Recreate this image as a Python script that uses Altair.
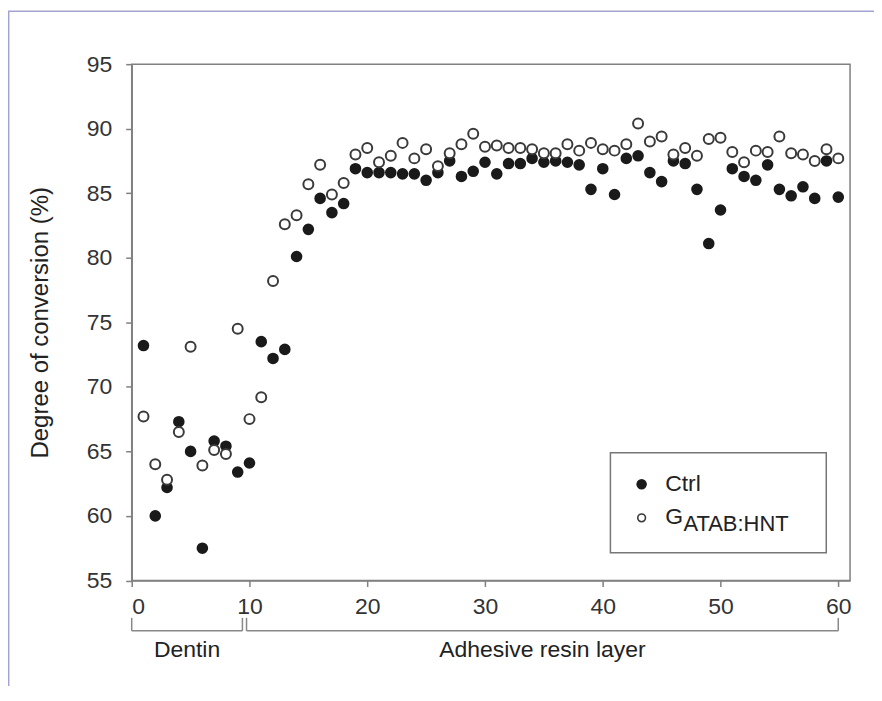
import altair as alt
import pandas as pd

# ---- data ----
positions = list(range(1, 61))
ctrl = [73.2, 60.0, 62.2, 67.3, 65.0, 57.5, 65.8, 65.4, 63.4, 64.1,
        73.5, 72.2, 72.9, 80.1, 82.2, 84.6, 83.5, 84.2, 86.9, 86.6,
        86.6, 86.6, 86.5, 86.5, 86.0, 86.6, 87.5, 86.3, 86.7, 87.4,
        86.5, 87.3, 87.3, 87.7, 87.4, 87.5, 87.4, 87.2, 85.3, 86.9,
        84.9, 87.7, 87.9, 86.6, 85.9, 87.5, 87.3, 85.3, 81.1, 83.7,
        86.9, 86.3, 86.0, 87.2, 85.3, 84.8, 85.5, 84.6, 87.5, 84.7]
gatab = [67.7, 64.0, 62.8, 66.5, 73.1, 63.9, 65.1, 64.8, 74.5, 67.5,
         69.2, 78.2, 82.6, 83.3, 85.7, 87.2, 84.9, 85.8, 88.0, 88.5,
         87.4, 87.9, 88.9, 87.7, 88.4, 87.1, 88.1, 88.8, 89.6, 88.6,
         88.7, 88.5, 88.5, 88.4, 88.1, 88.1, 88.8, 88.3, 88.9, 88.4,
         88.3, 88.8, 90.4, 89.0, 89.4, 88.0, 88.5, 87.9, 89.2, 89.3,
         88.2, 87.4, 88.3, 88.2, 89.4, 88.1, 88.0, 87.5, 88.4, 87.7]
x_ticks = [0, 10, 20, 30, 40, 50, 60]
y_ticks = [55, 60, 65, 70, 75, 80, 85, 90, 95]
regions = ["Dentin", "Adhesive resin layer"]
region_start = [0, 9.75]
region_end = [9.4, 60]
series_names = ["Ctrl", "G", "ATAB:HNT"]

df = pd.DataFrame({"pos": positions, "ctrl": ctrl, "gatab": gatab})
reg = pd.DataFrame({"name": regions, "start": region_start, "end": region_end,
                    "mid": [(a + b) / 2 for a, b in zip(region_start, region_end)]})
one = pd.DataFrame({"d": [0]})

FONT = "Liberation Sans"
W, H = 720, 517.5
xs = alt.Scale(domain=[0, 61], nice=False, zero=False)
ys = alt.Scale(domain=[55, 95], nice=False, zero=False)

X = alt.X("pos:Q", scale=xs, title=None,
          axis=alt.Axis(values=x_ticks, format="d", labelPadding=9))
Y_ctrl = alt.Y("ctrl:Q", scale=ys, title="Degree of conversion (%)",
               axis=alt.Axis(values=y_ticks, format="d", labelPadding=14, titlePadding=34))

filled = alt.Chart(df).mark_circle(size=135, color="#1a1a1a", opacity=1).encode(
    x=X, y=Y_ctrl)
opened = alt.Chart(df).mark_point(shape="circle", size=100, filled=True, fill="white",
                                   stroke="#3a3a3a", strokeWidth=2, opacity=1,
                                   fillOpacity=1).encode(
    x=alt.X("pos:Q", scale=xs), y=alt.Y("gatab:Q", scale=ys))

# ---- legend (placed in data coordinates) ----
lg_box = alt.Chart(one).mark_rect(fill="white", stroke="#777777", strokeWidth=1.5).encode(
    x=alt.datum(40.65), x2=alt.datum(58.98), y=alt.datum(64.9), y2=alt.datum(57.15))
lg_f = alt.Chart(one).mark_circle(size=110, color="#1a1a1a", opacity=1).encode(
    x=alt.datum(43.3), y=alt.datum(62.45))
lg_o = alt.Chart(one).mark_point(shape="circle", size=60, filled=True, fill="white",
                                 stroke="#3a3a3a", strokeWidth=1.6, opacity=1).encode(
    x=alt.datum(43.3), y=alt.datum(59.85))
lg_t1 = alt.Chart(one).mark_text(align="left", baseline="middle", font=FONT, fontSize=23,
                                 color="#222222").encode(
    x=alt.datum(45.3), y=alt.datum(62.45), text=alt.value(series_names[0]))
lg_t2 = alt.Chart(one).mark_text(align="left", baseline="middle", font=FONT, fontSize=23,
                                 color="#222222").encode(
    x=alt.datum(45.3), y=alt.datum(59.95), text=alt.value(series_names[1]))
lg_t3 = alt.Chart(one).mark_text(align="left", baseline="middle", font=FONT, fontSize=22,
                                 color="#222222").encode(
    x=alt.datum(46.85), y=alt.datum(59.4), text=alt.value(series_names[2]))

# ---- brackets under the axis ----
BR_TOP, BR_BOT, BR_TXT = 555, 568, 587
br_h = alt.Chart(reg).mark_rule(color="#888888", strokeWidth=1.5).encode(
    x=alt.X("start:Q", scale=xs), x2="end:Q", y=alt.value(BR_BOT))
br_l = alt.Chart(reg).mark_rule(color="#888888", strokeWidth=1.5).encode(
    x=alt.X("start:Q", scale=xs), y=alt.value(BR_TOP), y2=alt.value(BR_BOT))
br_r = alt.Chart(reg).mark_rule(color="#888888", strokeWidth=1.5).encode(
    x=alt.X("end:Q", scale=xs), y=alt.value(BR_TOP), y2=alt.value(BR_BOT))
br_t = alt.Chart(reg).mark_text(font=FONT, fontSize=23, color="#222222",
                                baseline="middle").encode(
    x=alt.X("mid:Q", scale=xs), y=alt.value(BR_TXT), text="name:N")

# ---- outer lavender frame ----
fr_top = alt.Chart(one).mark_rule(color="#a3a3d1", strokeWidth=1.5).encode(
    x=alt.value(-124), x2=alt.value(760), y=alt.value(-53))
fr_left = alt.Chart(one).mark_rule(color="#a3a3d1", strokeWidth=1.5).encode(
    x=alt.value(-123.3), y=alt.value(-53), y2=alt.value(640))

chart = alt.layer(
    fr_top, fr_left, filled, opened, lg_box, lg_f, lg_o, lg_t1, lg_t2, lg_t3,
    br_h, br_l, br_r, br_t
).properties(
    width=W, height=H,
    padding={"left": 124, "top": 55.5, "right": 24, "bottom": 105},
    autosize=alt.AutoSizeParams(type="none"),
    background="white",
).configure_view(
    stroke="#808080", strokeWidth=1.5
).configure_axis(
    grid=False, domainColor="#808080", domainWidth=1.5, tickColor="#808080",
    tickWidth=1.5, tickSize=6, labelFont=FONT, labelFontSize=23, labelColor="#333333",
    titleFont=FONT, titleFontSize=24, titleFontWeight="normal",
    titleColor="#222222"
)

chart.save("out.html", embed_options={"renderer": "svg", "actions": False})
